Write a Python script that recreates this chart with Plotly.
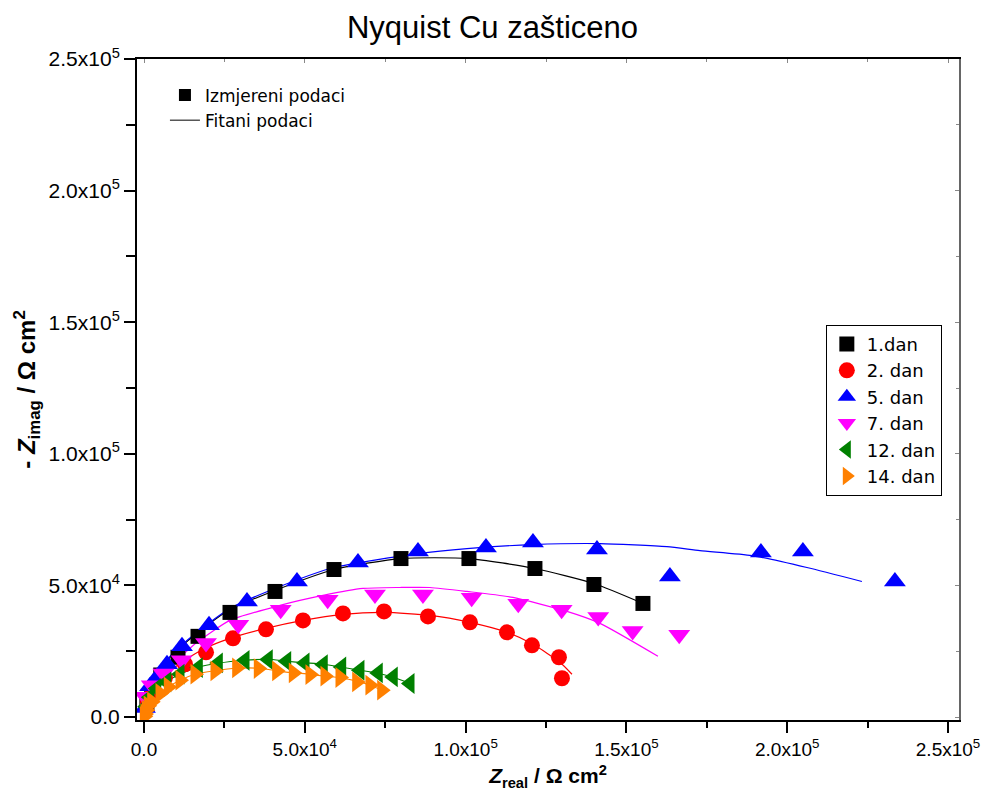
import plotly.graph_objects as go

# ---------------- data ----------------
series_names = ["1.dan", "2. dan", "5. dan", "7. dan", "12. dan", "14. dan"]
series_colors = ["#000000", "#FF0000", "#0000FF", "#FF00FF", "#008000", "#FF8000"]
series_symbols = ["square", "circle", "triangle-up", "triangle-down", "triangle-left", "triangle-right"]
series_sizes = [15, 16, 19, 19, 18, 18]

# measured data  (Z_real, -Z_imag)
d1_x = [900, 2400, 5200, 10570, 16790, 26740, 40730, 59070, 79900, 101040, 121560, 139900, 155140]
d1_y = [5000, 9500, 16000, 22730, 30680, 39770, 47730, 56060, 60230, 60230, 56440, 50380, 43180]

d2_x = [1200, 2800, 6500, 12750, 19280, 27670, 37930, 49430, 61870, 74620, 88300, 101350, 112860, 120630, 129020, 129960]
d2_y = [5500, 9500, 15000, 20080, 24620, 29930, 33330, 36740, 39400, 40150, 38260, 35990, 32200, 27270, 22730, 14770]

d5_x = [300, 1870, 4040, 7150, 11810, 20210, 32020, 47570, 66530, 85190, 106330, 120940, 140840, 163530, 191830, 204880, 233490]
d5_y = [3500, 11740, 15150, 20080, 26890, 34850, 43940, 51520, 58710, 62880, 64400, 66290, 63640, 53410, 62500, 62880, 51520]

d7_x = [300, 2390, 6000, 11720, 19280, 29320, 42500, 57110, 71820, 86740, 101880, 116370, 129860, 141240, 151940, 166420]
d7_y = [7690, 12120, 16550, 21590, 28150, 35110, 40800, 44590, 46590, 46590, 45340, 43070, 40800, 37990, 32690, 31330]

d12_x = [700, 1800, 3950, 7060, 11190, 16880, 23100, 31400, 38640, 44360, 50050, 55740, 61460, 67150, 72840, 77510, 82700]
d12_y = [4000, 7500, 10870, 13370, 16290, 18830, 20570, 21590, 21860, 21210, 20570, 19960, 19050, 17800, 16780, 15270, 12770]

d14_x = [100, 300, 700, 1300, 2390, 4970, 7550, 11190, 15860, 22070, 28820, 35540, 41260, 46420, 51610, 56270, 60940, 66130, 70260, 73900]
d14_y = [300, 1200, 2650, 4300, 5800, 8980, 11480, 14020, 16290, 17540, 18670, 18450, 17540, 16780, 16170, 15530, 15040, 13370, 12120, 10230]

# fitted data
f1_x = [0, 620, 1870, 4350, 8080, 16480, 26740, 40730, 59070, 79900, 101040, 121560, 139900, 155140]
f1_y = [0, 4550, 10230, 15910, 22730, 31820, 40910, 48110, 56060, 60230, 60230, 56440, 50760, 43180]

f2_x = [0, 930, 2800, 5910, 11190, 18960, 26740, 37930, 49430, 61870, 74920, 88920, 101350, 112860, 120940, 129330, 133070]
f2_y = [0, 4550, 9470, 14770, 20460, 26140, 29930, 33710, 36740, 39020, 39770, 38640, 35990, 32200, 27650, 20830, 16290]

f5_x = [0, 620, 1870, 4350, 8080, 16480, 26740, 40730, 59070, 85190, 100420, 120940, 141770, 162600, 172860, 189030, 206130, 223230]
f5_y = [0, 4550, 10230, 16290, 23110, 32200, 41290, 48870, 56820, 62120, 64020, 65530, 65910, 64780, 63260, 61370, 56820, 51520]

f7_x = [0, 310, 1240, 3420, 5910, 11190, 16480, 26740, 42280, 55650, 68090, 79590, 88920, 100420, 114720, 131510, 141770, 159800]
f7_y = [0, 4550, 8330, 12880, 17050, 22730, 28410, 36740, 42430, 46210, 48870, 49240, 49240, 47730, 45460, 40150, 35610, 23110]

f12_x = [0, 620, 1870, 4040, 7150, 11190, 16790, 23010, 31400, 38550, 44460, 50050, 55650, 61560, 67150, 72750, 77410, 82700]
f12_y = [0, 3790, 7580, 10990, 13640, 16290, 18940, 20460, 21590, 21970, 21210, 20640, 20080, 18940, 17800, 16670, 15150, 12880]

f14_x = [0, 310, 2390, 4970, 7460, 11190, 15860, 22070, 28910, 35440, 41350, 46320, 51610, 56270, 60940, 66220, 70260, 73990]
f14_y = [0, 2650, 5800, 9090, 11360, 14020, 16290, 17610, 18560, 18560, 17610, 16860, 16290, 15530, 14960, 13640, 12120, 10230]

meas_x = [d1_x, d2_x, d5_x, d7_x, d12_x, d14_x]
meas_y = [d1_y, d2_y, d5_y, d7_y, d12_y, d14_y]
fit_x = [f1_x, f2_x, f5_x, f7_x, f12_x, f14_x]
fit_y = [f1_y, f2_y, f5_y, f7_y, f12_y, f14_y]

tick_vals = [0, 50000, 100000, 150000, 200000, 250000]
tick_text = ["0.0", "5.0x10<sup>4</sup>", "1.0x10<sup>5</sup>", "1.5x10<sup>5</sup>",
             "2.0x10<sup>5</sup>", "2.5x10<sup>5</sup>"]

FONT = "Liberation Sans, Arial, sans-serif"
WIDE = "DejaVu Sans, Liberation Sans, sans-serif"
NARROW = "Liberation Sans Narrow, Arial Narrow, Liberation Sans, sans-serif"

fig = go.Figure()

# fitted lines
for i in range(6):
    fig.add_trace(go.Scatter(x=fit_x[i], y=fit_y[i], mode="lines",
                             line=dict(color=series_colors[i], width=1.2, shape="spline", smoothing=0.6),
                             showlegend=False, hoverinfo="skip"))

# measured markers
for i in range(6):
    fig.add_trace(go.Scatter(x=meas_x[i], y=meas_y[i], mode="markers", name=series_names[i],
                             marker=dict(color=series_colors[i], symbol=series_symbols[i],
                                         size=series_sizes[i], line=dict(width=0)),
                             legend="legend"))

# second legend (top-left)
fig.add_trace(go.Scatter(x=[None], y=[None], mode="markers", name="Izmjereni podaci",
                         marker=dict(color="black", symbol="square", size=12, line=dict(width=0)),
                         legend="legend2"))
fig.add_trace(go.Scatter(x=[None], y=[None], mode="lines", name="Fitani podaci",
                         line=dict(color="black", width=1), legend="legend2"))

# dummy trace for mirrored (top/right) axes with inner ticks
fig.add_trace(go.Scatter(x=[None], y=[None], xaxis="x2", yaxis="y2", showlegend=False,
                         hoverinfo="skip"))

xr = [-2180, 253420]
yr = [-1100, 250000]

fig.update_layout(
    width=985, height=807,
    margin=dict(l=137, r=26, t=59, b=87, autoexpand=False),
    paper_bgcolor="white", plot_bgcolor="white",
    font=dict(family=FONT, color="black"),
    title=dict(text="Nyquist Cu zašticeno", x=0.5, xanchor="center", y=0.966, yanchor="middle",
               font=dict(size=31, family=FONT, color="black")),
    xaxis=dict(range=xr, showgrid=False, zeroline=False, showline=True, linecolor="black", linewidth=2,
               automargin=False,
               ticks="outside", ticklen=11, tickwidth=2, tickcolor="black",
               tickvals=tick_vals, ticktext=tick_text,
               tickfont=dict(size=19, family=NARROW),
               minor=dict(ticks="outside", ticklen=6, tickwidth=1.5, tickcolor="black", dtick=25000, tick0=0),
               title=dict(text="<b><i>Z</i><sub>real</sub> / Ω cm<sup>2</sup></b>",
                          font=dict(size=21, family=NARROW), standoff=10)),
    yaxis=dict(range=yr, showgrid=False, zeroline=False, showline=True, linecolor="black", linewidth=2,
               automargin=False,
               ticks="outside", ticklen=11, tickwidth=2, tickcolor="black",
               tickvals=tick_vals, ticktext=tick_text,
               tickfont=dict(size=21, family=FONT),
               minor=dict(ticks="outside", ticklen=9, tickwidth=1.5, tickcolor="black", dtick=25000, tick0=0),
               title=dict(text="<b>- <i>Z</i><sub>imag</sub> / Ω cm<sup>2</sup></b>",
                          font=dict(size=24, family=NARROW), standoff=6)),
    xaxis2=dict(range=xr, overlaying="x", side="top", showgrid=False, zeroline=False,
                automargin=False,
                showline=True, linecolor="black", linewidth=1.5,
                ticks="inside", ticklen=4, tickwidth=1, tickcolor="#888",
                tickvals=tick_vals, showticklabels=False,
                minor=dict(ticks="inside", ticklen=3, tickcolor="#888", dtick=25000, tick0=0)),
    yaxis2=dict(range=yr, overlaying="y", side="right", showgrid=False, zeroline=False,
                automargin=False,
                showline=True, linecolor="#666", linewidth=1.5,
                ticks="inside", ticklen=4, tickwidth=1, tickcolor="#888",
                tickvals=tick_vals, showticklabels=False,
                minor=dict(ticks="inside", ticklen=3, tickcolor="#888", dtick=25000, tick0=0)),
    legend=dict(x=0.838, y=0.598, xanchor="left", yanchor="top",
                bordercolor="black", borderwidth=1, bgcolor="white",
                font=dict(size=18, family=WIDE), tracegroupgap=0, itemsizing="trace"),
    legend2=dict(x=0.034, y=0.972, xanchor="left", yanchor="top",
                 borderwidth=0, bgcolor="rgba(0,0,0,0)",
                 font=dict(size=17, family=WIDE), tracegroupgap=0),
)

fig.write_html("out.html")
